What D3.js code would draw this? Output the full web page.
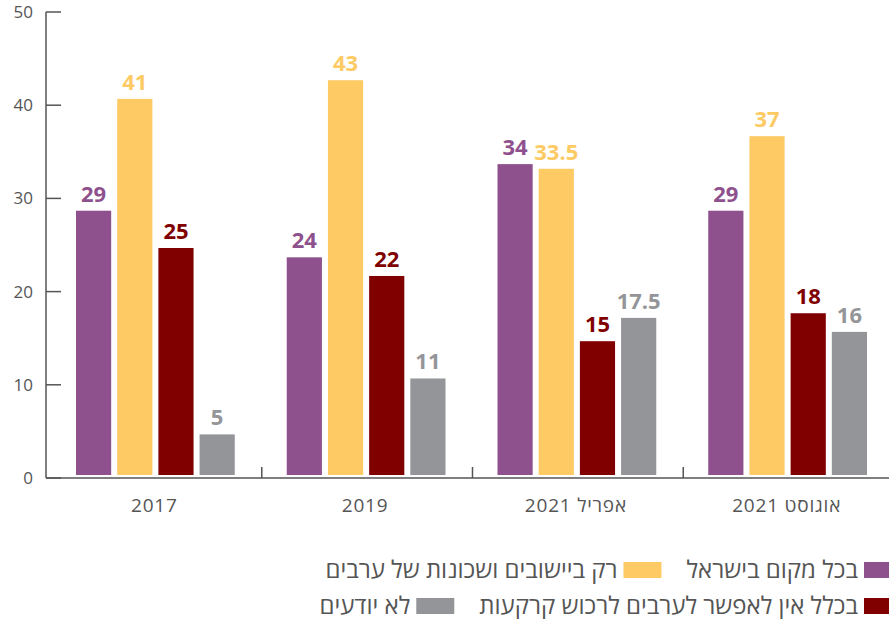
<!DOCTYPE html>
<html>
<head>
<meta charset="utf-8">
<script src="https://cdn.jsdelivr.net/npm/d3@7"></script>
<style>
  body { margin: 0; background: #fff; }
  text { font-family: "Open Sans", "DejaVu Sans", sans-serif; }
</style>
</head>
<body>
<svg id="chart" width="889" height="619"></svg>
<script>
// data
var groups = ["2017", "2019", "אפריל 2021", "אוגוסט 2021"]
var seriesNames = [
  "בכל מקום בישראל",
  "רק ביישובים ושכונות של ערבים",
  "בכלל אין לאפשר לערבים לרכוש קרקעות",
  "לא יודעים"
]
var everywhere = [29, 24, 34, 29]
var arabOnly = [41, 43, 33.5, 37]
var notAtAll = [25, 22, 15, 18]
var dontKnow = [5, 11, 17.5, 16]
var yTicks = [0, 10, 20, 30, 40, 50]

var colors = ["#8e518d", "#fdca64", "#800000", "#939598"]
var seriesValues = [everywhere, arabOnly, notAtAll, dontKnow]

var svg = d3.select("#chart")
var axisColor = "#555"

var y = d3.scaleLinear().domain([0, 50]).range([478, 12])
var x0 = d3.scaleBand().domain(groups).range([51, 894]).padding(0)
var x1 = d3.scaleBand().domain(d3.range(4))
  .range([25, x0.bandwidth() - 27]).paddingInner(0.146)

// y axis
var yAxis = svg.append("g")
yAxis.append("line")
  .attr("x1", 46).attr("x2", 46)
  .attr("y1", y(50)).attr("y2", y(0))
  .attr("stroke", axisColor).attr("stroke-width", 1.5)
yAxis.selectAll(".tick").data(yTicks).enter().append("line")
  .attr("x1", 46).attr("x2", 61)
  .attr("y1", d => y(d)).attr("y2", d => y(d))
  .attr("stroke", axisColor).attr("stroke-width", 1.5)
yAxis.selectAll(".lbl").data(yTicks).enter().append("text")
  .attr("x", 33).attr("y", d => y(d) + 6)
  .attr("text-anchor", "end")
  .attr("font-size", 17)
  .attr("fill", axisColor)
  .text(d => d)

// x axis
svg.append("line")
  .attr("x1", 46).attr("x2", 889)
  .attr("y1", y(0)).attr("y2", y(0))
  .attr("stroke", axisColor).attr("stroke-width", 1.5)
svg.selectAll(".sep").data(groups.slice(1)).enter().append("line")
  .attr("x1", d => x0(d)).attr("x2", d => x0(d))
  .attr("y1", y(0) - 11).attr("y2", y(0))
  .attr("stroke", axisColor).attr("stroke-width", 1.5)
svg.selectAll(".cat").data(groups).enter().append("text")
  .attr("x", d => x0(d) + x0.bandwidth() / 2 - 2)
  .attr("y", 512)
  .attr("text-anchor", "middle")
  .attr("font-size", 19)
  .attr("letter-spacing", 0.8)
  .attr("fill", axisColor)
  .text(d => d)

// bars
groups.forEach(function (g, gi) {
  var gg = svg.append("g").attr("transform", "translate(" + x0(g) + ",0)")
  seriesValues.forEach(function (vals, si) {
    var v = vals[gi]
    gg.append("rect")
      .attr("x", x1(si))
      .attr("y", y(v) + 3)
      .attr("width", x1.bandwidth())
      .attr("height", y(0) - y(v) - 6)
      .attr("fill", colors[si])
    gg.append("text")
      .attr("x", x1(si) + x1.bandwidth() / 2)
      .attr("y", y(v) - 6)
      .attr("text-anchor", "middle")
      .attr("font-size", 22)
      .attr("font-weight", "bold")
      .attr("fill", colors[si])
      .text(v)
  })
})

// legend (right-to-left flow)
var rows = [[0, 1], [2, 3]]
var rowY = [570, 606]
rows.forEach(function (items, ri) {
  var right = 864
  items.forEach(function (si) {
    svg.append("rect")
      .attr("x", right).attr("y", rowY[ri] - 8)
      .attr("width", 38).attr("height", 16)
      .attr("fill", colors[si])
    var t = svg.append("text")
      .attr("x", right - 6).attr("y", rowY[ri] + 8)
      .attr("text-anchor", "end")
      .attr("font-size", 24)
      .attr("fill", axisColor)
      .text(seriesNames[si])
    var w = t.node().getComputedTextLength()
    right = right - 6 - w - 25 - 38
  })
})
</script>
</body>
</html>
